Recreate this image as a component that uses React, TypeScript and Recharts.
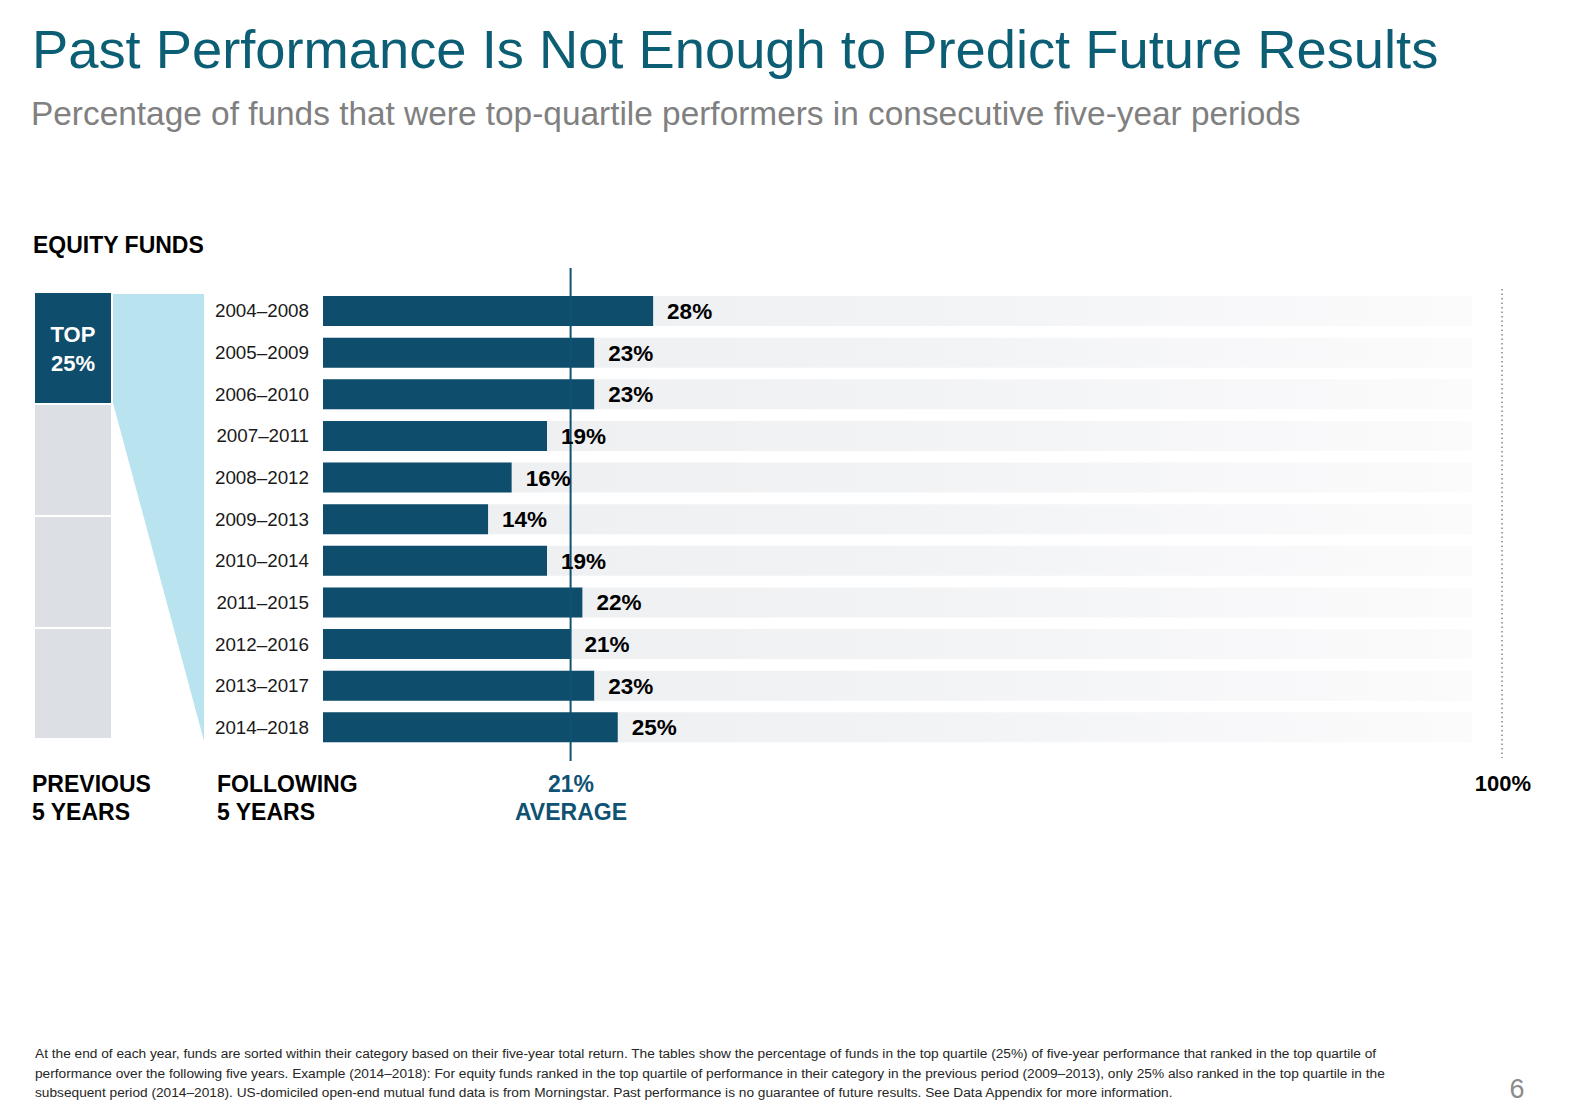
import { BarChart, Bar, XAxis, YAxis, ReferenceLine, LabelList } from 'recharts';

const PERIODS = [
  '2004–2008',
  '2005–2009',
  '2006–2010',
  '2007–2011',
  '2008–2012',
  '2009–2013',
  '2010–2014',
  '2011–2015',
  '2012–2016',
  '2013–2017',
  '2014–2018',
];
const TOP_QUARTILE_PCT = [28, 23, 23, 19, 16, 14, 19, 22, 21, 23, 25];
const AVERAGE_PCT = 21;
const MAX_PCT = 100;

const FOOTNOTE = [
  'At the end of each year, funds are sorted within their category based on their five-year total return. The tables show the percentage of funds in the top quartile (25%) of five-year performance that ranked in the top quartile of',
  'performance over the following five years. Example (2014–2018): For equity funds ranked in the top quartile of performance in their category in the previous period (2009–2013), only 25% also ranked in the top quartile in the',
  'subsequent period (2014–2018). US-domiciled open-end mutual fund data is from Morningstar. Past performance is no guarantee of future results. See Data Appendix for more information.',
];

const FONT = '"Liberation Sans", Arial, Helvetica, sans-serif';
const BAR = '#0e4d6b';
const AVG = '#0f5273';

// text block positioned by its baseline (line-height = font size)
const Txt = ({ left, baseline, size, width, align, bold, color, children }: any) => (
  <div
    style={{
      position: 'absolute',
      left,
      top: baseline - 0.8465 * size,
      width,
      textAlign: align || 'left',
      fontSize: size,
      lineHeight: `${size}px`,
      fontWeight: bold ? 700 : 400,
      color: color || '#000',
      whiteSpace: 'nowrap',
    }}
  >
    {children}
  </div>
);

export default function App() {
  const rows = PERIODS.map((period, i) => ({ period, value: TOP_QUARTILE_PCT[i] }));

  return (
    <div
      style={{
        position: 'absolute',
        left: 0,
        top: 0,
        width: 1592,
        height: 1119,
        background: '#fff',
        fontFamily: FONT,
        overflow: 'hidden',
      }}
    >
      <Txt left={32} baseline={69} size={54.3} color="#0b5e74">
        Past Performance Is Not Enough to Predict Future Results
      </Txt>
      <Txt left={31} baseline={125} size={33.4} color="#808080">
        Percentage of funds that were top-quartile performers in consecutive five-year periods
      </Txt>
      <Txt left={33} baseline={253} size={23} bold>
        EQUITY FUNDS
      </Txt>

      {/* quartile boxes + funnel */}
      <svg width={220} height={760} style={{ position: 'absolute', left: 0, top: 0 }}>
        <polygon points="113,294 204,294 204,741 113,403" fill="#b9e3ef" />
        <rect x={35} y={293} width={76} height={110} fill={BAR} />
        <rect x={35} y={405} width={76} height={110} fill="#dcdfe3" />
        <rect x={35} y={517} width={76} height={110} fill="#dcdfe3" />
        <rect x={35} y={629} width={76} height={109} fill="#dcdfe3" />
      </svg>
      <Txt left={35} baseline={343} size={22} width={76} align="center" bold color="#fff">
        TOP
      </Txt>
      <Txt left={35} baseline={372} size={22} width={76} align="center" bold color="#fff">
        25%
      </Txt>

      <div style={{ position: 'absolute', left: 0, top: 240 }}>
        <BarChart
          width={1592}
          height={540}
          data={rows}
          layout="vertical"
          margin={{ top: 28, right: 90, bottom: 19, left: 0 }}
        >
          <defs>
            <linearGradient id="rowFade" x1="0" y1="0" x2="1" y2="0">
              <stop offset="0" stopColor="#edeef0" />
              <stop offset="0.5" stopColor="#f2f3f5" />
              <stop offset="0.974" stopColor="#fbfbfc" />
              <stop offset="0.975" stopColor="#ffffff" stopOpacity={0} />
              <stop offset="1" stopColor="#ffffff" stopOpacity={0} />
            </linearGradient>
          </defs>
          <XAxis type="number" domain={[0, MAX_PCT]} hide />
          <YAxis
            type="category"
            dataKey="period"
            width={323}
            interval={0}
            tickLine={false}
            axisLine={false}
            tickSize={0}
            tickMargin={14}
            padding={{ top: 22, bottom: 13 }}
            tick={{ fill: '#1a1a1a', fontSize: 18.8, fontFamily: FONT }}
          />
          <Bar
            dataKey="value"
            fill={BAR}
            barSize={30}
            isAnimationActive={false}
            background={{ fill: 'url(#rowFade)' }}
          >
            <LabelList
              dataKey="value"
              position="right"
              offset={14}
              formatter={(v: any) => `${v}%`}
              style={{ fill: '#000', fontSize: 22.5, fontWeight: 700, fontFamily: FONT }}
            />
          </Bar>
          <ReferenceLine x={AVERAGE_PCT} stroke={AVG} strokeWidth={2} />
          <ReferenceLine
            x={MAX_PCT}
            shape={(p: any) => (
              <line
                x1={p.x1}
                x2={p.x2}
                y1={Math.min(p.y1, p.y2) + 21}
                y2={Math.max(p.y1, p.y2) - 3}
                stroke="#7d8590"
                strokeWidth={1.5}
                strokeDasharray="1.5 3"
              />
            )}
          />
        </BarChart>
      </div>

      <Txt left={32} baseline={792} size={23} bold>PREVIOUS</Txt>
      <Txt left={32} baseline={820} size={23} bold>5 YEARS</Txt>
      <Txt left={217} baseline={792} size={23} bold>FOLLOWING</Txt>
      <Txt left={217} baseline={820} size={23} bold>5 YEARS</Txt>
      <Txt left={471} baseline={792} size={23} width={200} align="center" bold color={AVG}>
        {AVERAGE_PCT}%
      </Txt>
      <Txt left={471} baseline={820} size={23} width={200} align="center" bold color={AVG}>
        AVERAGE
      </Txt>
      <Txt left={1403} baseline={792} size={22} width={200} align="center" bold>
        {MAX_PCT}%
      </Txt>

      <div
        style={{
          position: 'absolute',
          left: 35,
          top: 1044,
          fontSize: 13.7,
          lineHeight: '19.5px',
          color: '#262626',
          whiteSpace: 'nowrap',
        }}
      >
        {FOOTNOTE.map((line, i) => (
          <div key={i}>{line}</div>
        ))}
      </div>
      <Txt left={1497} baseline={1099} size={27} width={40} align="center" color="#8c8c8c">
        6
      </Txt>
    </div>
  );
}
